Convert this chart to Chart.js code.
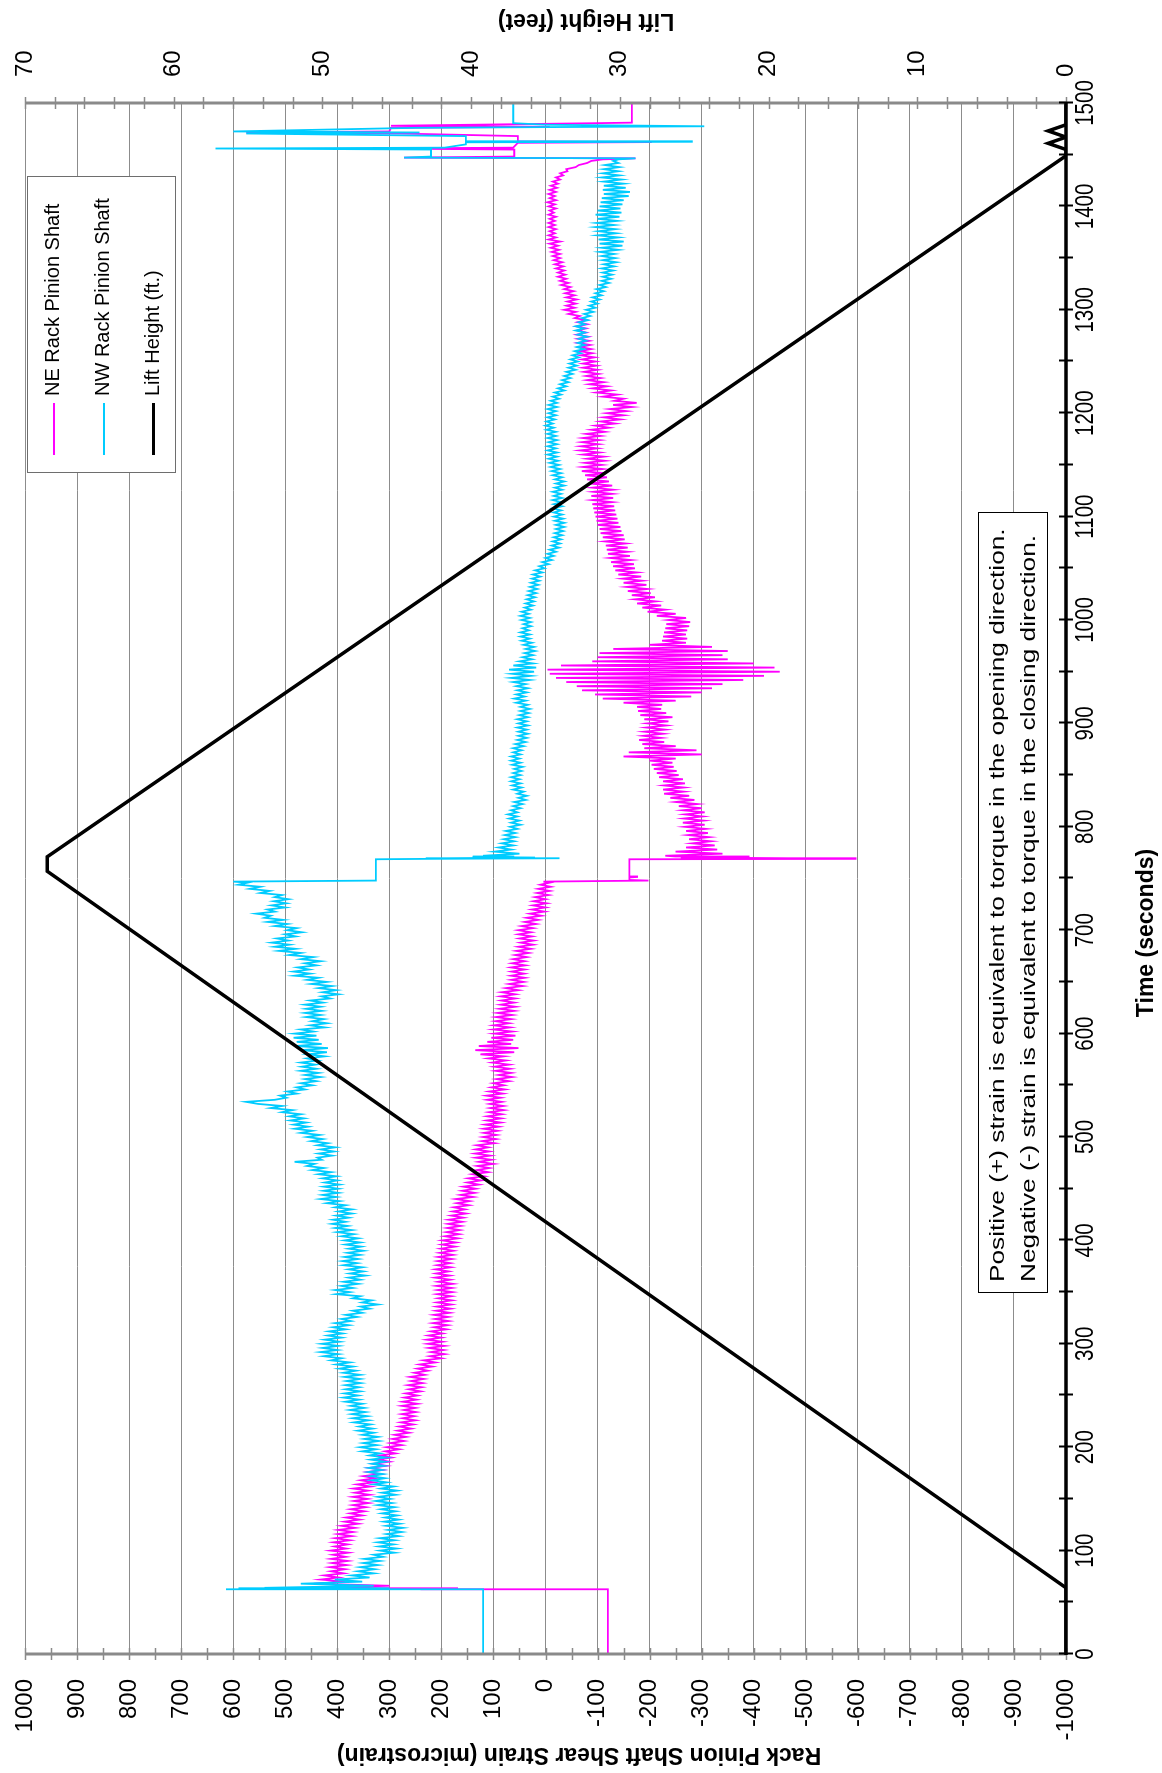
<!DOCTYPE html>
<html>
<head>
<meta charset="utf-8">
<title>Rack Pinion Shaft Shear Strain</title>
<script src="https://cdn.jsdelivr.net/npm/chart.js@4.4.1/dist/chart.umd.min.js"></script>
<style>
  html, body { margin: 0; padding: 0; background: #fff; }
  body { width: 1162px; height: 1773px; overflow: hidden; position: relative; }
  /* the chart is laid out landscape and turned a quarter turn onto the portrait page */
  #stage { position: absolute; left: 0; top: 1773px; width: 1773px; height: 1162px;
           transform-origin: 0 0; transform: rotate(-90deg); background: #fff; }
  #chart { position: absolute; left: 0; top: 0; }
  #legend { position: absolute; left: 1300px; top: 27px; width: 295px; height: 147px;
            border: 1.5px solid #6e6e6e; background: #fff;
            font: 20px "Liberation Sans", Arial, sans-serif; color: #000; }
  .item { position: absolute; left: 17px; height: 24px; line-height: 24px; white-space: nowrap; }
  .swatch { display: inline-block; width: 52px; vertical-align: middle; margin-right: 7px; }
  #note { position: absolute; left: 480px; top: 978px; width: 779px; height: 68px;
          border: 1.5px solid #000; background: #fff; overflow: hidden; }
  #note div { transform-origin: 0 0; transform: scaleX(1.25);
              font: 21px "Liberation Sans", Arial, sans-serif; line-height: 31px;
              padding: 2px 0 0 8px; white-space: nowrap; color: #000; }
</style>
</head>
<body>
<div id="stage">
  <canvas id="chart" width="1773" height="1162"></canvas>
  <div id="legend"></div>
  <div id="note"><div>Positive (+) strain is equivalent to torque in the opening direction.<br>Negative (-) strain is equivalent to torque in the closing direction.</div></div>
</div>
<script>
// ---- logged data -------------------------------------------------------
const SERIES_NAMES = ['NE Rack Pinion Shaft', 'NW Rack Pinion Shaft', 'Lift Height (ft.)'];
const SERIES_COLORS = ['#FF00FF', '#00CCFF', '#000000'];

const STEP = 2;            // logger interval during the two continuous runs (s)
const RUN1_START = 64;     // opening run: first sample time (s)
const RUN2_START = 772;    // closing run: first sample time (s)

// NE shaft, opening run (microstrain)
const neRun1 = [
 430,300,445,385,432,398,425,388,412,385,
 414,382,410,380,412,384,408,379,413,383,
 405,380,407,376,404,372,399,370,398,366,
 392,360,386,357,383,352,375,348,374,345,
 370,340,368,342,370,338,366,341,369,336,
 362,330,355,327,350,318,342,313,338,306,
 330,300,322,296,318,288,308,281,305,276,
 298,272,294,268,290,262,284,258,281,254,
 278,250,274,252,276,249,272,250,276,246,
 274,248,271,246,268,240,262,238,264,236,
 258,234,260,232,252,226,246,218,242,212,
 234,200,222,194,220,196,224,194,226,198,
 228,200,225,198,220,190,214,188,216,186,
 212,187,214,184,210,182,209,181,208,180,
 206,181,208,179,207,180,209,178,206,183,
 212,184,210,186,211,182,208,183,207,180,
 206,178,203,177,201,174,199,172,198,168,
 193,166,190,165,189,163,187,160,186,158,
 181,153,178,155,176,147,170,146,172,139,
 163,136,160,134,158,128,150,124,148,118,
 140,110,132,108,131,100,128,104,134,106,
 135,108,134,110,132,98,122,95,120,94,
 118,92,119,90,116,86,113,85,112,84,
 108,80,106,81,107,84,112,86,113,82,
 108,78,104,80,100,70,94,64,90,66,
 96,68,98,70,102,76,110,80,125,60,
 135,52,128,66,112,62,104,58,98,64,
 100,68,99,70,96,66,95,64,92,60,
 88,58,86,60,85,58,86,58,84,52,
 76,44,70,42,66,40,66,41,65,40,
 66,39,64,40,62,36,58,32,56,28,
 52,24,48,23,50,26,52,28,52,24,
 46,18,40,14,36,8,30,2,26,0,
 24,-2,23,0,20,-6,16,-8,14,-10,
 10,-8
];

// NW shaft, opening run (microstrain)
const nwRun1 = [
 540,330,470,352,405,338,372,330,360,328,
 356,322,350,318,348,312,330,290,318,286,
 320,292,322,290,318,282,305,276,302,274,
 306,280,310,282,308,285,314,288,316,290,
 322,295,326,298,322,288,314,285,316,292,
 330,305,334,308,336,312,340,314,340,310,
 334,308,336,306,338,318,352,326,356,324,
 350,320,348,322,352,330,360,332,358,336,
 368,340,370,342,372,346,376,348,374,352,
 384,358,388,360,386,356,384,358,384,355,
 382,356,386,356,388,364,396,370,402,376,
 412,392,426,398,432,400,428,398,430,396,
 424,392,418,390,416,384,408,378,404,374,
 392,362,384,352,370,338,355,322,352,334,
 370,356,402,376,404,370,392,360,388,356,
 378,346,376,350,378,352,388,362,390,360,
 386,356,380,350,378,354,384,356,386,360,
 392,368,400,372,404,380,410,384,408,378,
 402,372,398,372,404,384,420,396,432,402,
 428,398,426,398,426,396,424,400,428,402,
 436,412,448,426,458,444,482,430,438,410,
 436,406,432,404,438,418,450,428,458,434,
 470,448,482,456,484,460,490,464,492,470,
 506,486,528,506,552,575,520,498,510,478,
 496,462,478,448,470,440,462,432,462,436,
 470,440,468,442,470,438,458,424,456,420,
 470,418,480,430,478,436,484,440,482,446,
 470,424,452,420,448,426,460,432,462,430,
 460,432,462,428,452,414,430,398,428,402,
 436,410,450,420,458,436,482,452,484,454,
 476,440,462,432,470,446,492,470,512,480,
 520,492,526,494,516,480,500,468,496,478,
 520,496,534,504,540,528,556,520,534,500,
 526,498,522,494,520,506,548,530,568,548,
 590,572
];

// NE shaft, closing run (microstrain)
const neRun2 = [
 -230,-340,-250,-330,-270,-325,-282,-318,-276,-314,
 -274,-312,-270,-308,-268,-306,-264,-304,-266,-302,
 -268,-306,-264,-300,-256,-292,-250,-286,-240,-276,
 -228,-266,-226,-266,-228,-268,-226,-264,-218,-256,
 -214,-252,-208,-246,-204,-244,-200,-250,-150,-300,
 -160,-290,-190,-250,-186,-228,-180,-222,-188,-226,
 -190,-230,-194,-232,-196,-236,-190,-244,-182,-232,
 -178,-222,-176,-224,-150,-250,-110,-280,-95,-300,
 -70,-320,-60,-340,-40,-380,-20,-420,-8,-450,
 -4,-440,-30,-400,-90,-350,-100,-340,-104,-350,
 -130,-320,-200,-270,-224,-272,-226,-270,-228,-272,
 -230,-276,-232,-278,-236,-270,-214,-250,-196,-230,
 -186,-222,-176,-212,-172,-210,-166,-202,-158,-196,
 -156,-194,-150,-186,-148,-184,-140,-176,-134,-172,
 -130,-170,-126,-164,-124,-162,-120,-158,-118,-158,
 -116,-154,-114,-152,-110,-150,-106,-146,-104,-144,
 -100,-140,-98,-138,-96,-136,-94,-134,-92,-132,
 -90,-128,-90,-130,-88,-128,-92,-130,-90,-128,
 -84,-122,-80,-118,-76,-114,-70,-110,-72,-108,
 -76,-114,-80,-112,-72,-104,-66,-100,-68,-102,
 -70,-104,-72,-106,-78,-114,-88,-122,-96,-134,
 -106,-144,-112,-150,-118,-156,-124,-166,-130,-175,
 -132,-150,-110,-138,-98,-126,-90,-118,-84,-112,
 -80,-106,-78,-102,-74,-100,-72,-98,-72,-96,
 -70,-94,-68,-90,-66,-88,-66,-86,-62,-84,
 -62,-82,-60,-78,-62,-78,-60,-80,-62,-78,
 -56,-66,-44,-58,-36,-56,-40,-58,-42,-60,
 -40,-56,-38,-54,-36,-48,-30,-44,-28,-40,
 -24,-38,-24,-36,-20,-34,-18,-32,-16,-28,
 -14,-28,-12,-26,-10,-24,-8,-28,-6,-20,
 -6,-18,-8,-20,-6,-18,-6,-18,-8,-20,
 -6,-16,-8,-20,-6,-18,-4,-20,-8,-18,
 -6,-20,-8,-22,-10,-24,-14,-28,-20,-34,
 -28,-42,-40,-58,-64,-80,-88
];

// NW shaft, closing run (microstrain)
const nwRun2 = [
 120,50,98,66,90,62,84,60,80,58,
 78,58,76,54,68,48,66,50,70,54,
 72,54,66,48,62,44,60,38,52,36,
 54,42,62,46,64,48,66,50,66,48,
 62,46,60,44,64,48,66,50,66,48,
 62,46,62,42,58,38,54,36,52,34,
 52,36,54,34,52,36,54,34,50,32,
 48,30,48,34,56,38,60,40,56,36,
 54,34,56,38,62,30,66,28,64,22,
 70,18,62,24,50,26,44,24,40,20,
 38,22,42,26,46,30,48,30,48,32,
 44,28,42,28,46,30,48,32,46,28,
 40,24,38,22,36,20,34,18,32,16,
 30,14,28,12,26,10,24,6,20,2,
 12,-6,6,-12,0,-16,-4,-20,-8,-26,
 -12,-28,-14,-30,-16,-32,-18,-34,-20,-36,
 -20,-36,-18,-34,-16,-32,-16,-30,-14,-32,
 -16,-30,-14,-32,-16,-30,-14,-32,-18,-36,
 -20,-36,-18,-32,-14,-30,-12,-28,-10,-26,
 -8,-24,-6,-22,-4,-22,-4,-20,-4,-22,
 -6,-22,-4,-20,-4,-20,-2,-16,0,-14,
 -2,-18,-4,-20,-6,-20,-4,-22,-6,-22,
 -10,-26,-14,-30,-18,-36,-24,-40,-28,-44,
 -32,-48,-36,-52,-40,-58,-44,-60,-46,-62,
 -48,-64,-52,-68,-56,-74,-60,-76,-62,-78,
 -64,-80,-62,-76,-58,-74,-58,-76,-64,-82,
 -70,-86,-74,-92,-78,-96,-84,-100,-88,-104,
 -90,-108,-96,-112,-98,-116,-104,-122,-108,-126,
 -110,-128,-110,-130,-108,-132,-112,-136,-110,-134,
 -108,-132,-104,-140,-108,-148,-104,-150,-102,-140,
 -100,-136,-102,-134,-96,-132,-98,-138,-100,-142,
 -96,-146,-100,-144,-104,-148,-106,-150,-108,-160,
 -112,-162,-110,-154,-112,-150,-112,-146,-108,-142,
 -110,-140,-112,-142,-114,-140,-130
];

// sparse samples outside the continuous runs: [time (s), microstrain]
const neEvents = [
 [0,-120],[62,-120],[62.4,110],[62.8,240],[63.2,170],[63.6,330],
 [747,4],[748,-198],[748.6,-161],[751,-161],[751.5,-176],[752,-161],[768.6,-161],
 [769,-596],[769.4,-260],[769.8,-470],[770.3,-270],[770.8,-390],[771.3,-250],
 [1445.5,-110],[1446.5,-173],[1447.2,272],[1448.2,60],[1455,60],[1456,326],[1456.8,62],
 [1461.5,53],[1462.2,-204],[1462.8,53],[1468,53],[1470.5,279],[1471.5,575],[1472.5,300],
 [1476,297],[1477,-8],[1478,297],[1480.5,-98],[1481,-166],[1500,-166]
];
const nwEvents = [
 [0,120],[62,120],[62.4,614],[62.8,250],[63.2,590],[63.6,300],
 [747,600],[748,326],[768.6,326],
 [769,230],[769.4,-27],[769.8,190],[770.3,20],[770.8,140],[771.3,60],
 [1445.5,-140],[1446.5,-173],[1447.2,272],[1448.2,220],[1455,220],[1456,634],[1456.8,194],
 [1460,153],[1462,153],[1462.5,-281],[1463,153],[1468,153],[1470.5,575],[1471.5,242],
 [1472.5,600],[1476,250],[1477.5,-305],[1479,0],[1480.5,62],[1500,62]
];

// lift height of the span (ft)
const liftTimes  = [0, 64, 757, 771, 1449, 1455, 1461, 1467, 1473, 1479, 1500];
const liftHeight = [0, 0, 68.5, 68.5, 0, 0, 1.2, 0, 1.2, 0, 0];

// axis ranges and tick steps
const TIME_MAX = 1500, TIME_STEP = 100, TIME_MINOR = 50;
const STRAIN_MIN = -1000, STRAIN_MAX = 1000, STRAIN_STEP = 100, STRAIN_MINOR = 50;
const LIFT_MAX = 70, LIFT_STEP = 10, LIFT_MINOR = 2;

// ---- assemble point lists ----------------------------------------------
function buildSeries(events, runs) {
  const pts = events.map(([t, v]) => ({ x: t, y: v }));
  runs.forEach(({ start, values }) => {
    values.forEach((v, i) => pts.push({ x: start + i * STEP, y: v }));
  });
  return pts.sort((a, b) => a.x - b.x);
}
const nePoints = buildSeries(neEvents, [{ start: RUN1_START, values: neRun1 }, { start: RUN2_START, values: neRun2 }]);
const nwPoints = buildSeries(nwEvents, [{ start: RUN1_START, values: nwRun1 }, { start: RUN2_START, values: nwRun2 }]);
const liftPoints = liftTimes.map((t, i) => ({ x: t, y: liftHeight[i] }));

// ---- axis lines with crossing tick marks, time labels and axis titles ---
const FONT = '"Liberation Sans", Arial, Helvetica, sans-serif';
const axisFrame = {
  id: 'axisFrame',
  afterDatasetsDraw(chart) {
    const { ctx, chartArea: a, scales } = chart;
    const seg = (x1, y1, x2, y2) => { ctx.beginPath(); ctx.moveTo(x1, y1); ctx.lineTo(x2, y2); ctx.stroke(); };
    ctx.save();
    ctx.lineCap = 'butt';
    // strain axis (left)
    ctx.strokeStyle = '#8a8a8a';
    ctx.lineWidth = 1.5;
    for (let s = STRAIN_MIN; s <= STRAIN_MAX; s += STRAIN_MINOR) {
      const p = Math.round(scales.y.getPixelForValue(s)) + 0.5;
      seg(a.left - 6, p, a.left + 6, p);
    }
    ctx.lineWidth = 3;
    seg(a.left, a.top, a.left, a.bottom);
    // lift axis (right)
    ctx.lineWidth = 1.5;
    for (let h = 0; h <= LIFT_MAX; h += LIFT_MINOR) {
      const p = Math.round(scales.y1.getPixelForValue(h)) + 0.5;
      seg(a.right - 6, p, a.right + 6, p);
    }
    ctx.lineWidth = 3;
    seg(a.right, a.top, a.right, a.bottom);
    // time axis (bottom)
    ctx.strokeStyle = '#000';
    ctx.lineWidth = 2;
    for (let t = 0; t <= TIME_MAX; t += TIME_MINOR) {
      const p = Math.round(scales.x.getPixelForValue(t)) + 0.5;
      seg(p, a.bottom - 7, p, a.bottom + 7);
    }
    ctx.lineWidth = 3.5;
    seg(a.left - 1, a.bottom, a.right + 1, a.bottom);
    ctx.restore();
  },
  afterDraw(chart) {
    const { ctx, chartArea: a, scales } = chart;
    ctx.save();
    ctx.fillStyle = '#000';
    // time tick labels in a condensed face
    ctx.font = '25px ' + FONT;
    ctx.textAlign = 'center';
    ctx.textBaseline = 'middle';
    scales.x.ticks.forEach(tk => {
      const p = scales.x.getPixelForValue(tk.value);
      ctx.save(); ctx.translate(p, a.bottom + 20); ctx.scale(0.82, 1);
      ctx.fillText(String(tk.value), 0, 0); ctx.restore();
    });
    // axis titles
    ctx.font = 'bold 23px ' + FONT;
    ctx.fillText('Time (seconds)', 840, 1147);
    const vertical = (text, x, y) => {
      ctx.save(); ctx.translate(x, y); ctx.rotate(-Math.PI / 2); ctx.fillText(text, 0, 0); ctx.restore();
    };
    vertical('Rack Pinion Shaft Shear Strain (microstrain)', 19, 579);
    vertical('Lift Height (feet)', 1753, 586);
    ctx.restore();
  }
};

const noEdgePadding = scale => { scale.paddingTop = 0; scale.paddingBottom = 0; scale.paddingLeft = 0; scale.paddingRight = 0; };

const chart = new Chart(document.getElementById('chart'), {
  type: 'line',
  data: {
    datasets: [
      { label: SERIES_NAMES[0], data: nePoints, borderColor: SERIES_COLORS[0], borderWidth: 1.8,
        pointRadius: 0, tension: 0, yAxisID: 'y', order: 3 },
      { label: SERIES_NAMES[1], data: nwPoints, borderColor: SERIES_COLORS[1], borderWidth: 1.8,
        pointRadius: 0, tension: 0, yAxisID: 'y', order: 2 },
      { label: SERIES_NAMES[2], data: liftPoints, borderColor: SERIES_COLORS[2], borderWidth: 3.5,
        pointRadius: 0, tension: 0, yAxisID: 'y1', order: 1 }
    ]
  },
  options: {
    responsive: false,
    animation: false,
    devicePixelRatio: 1,
    layout: { padding: { top: 25, left: 0, right: 0, bottom: 0 } },
    plugins: { legend: { display: false }, tooltip: { enabled: false } },
    scales: {
      x: {
        type: 'linear', min: 0, max: TIME_MAX,
        grid: { display: false, drawTicks: false },
        border: { display: false },
        ticks: { stepSize: TIME_STEP, display: false },
        afterFit(scale) { scale.height = 96; noEdgePadding(scale); }
      },
      y: {
        position: 'left', min: STRAIN_MIN, max: STRAIN_MAX,
        grid: { color: '#8c8c8c', lineWidth: 1, drawTicks: false },
        border: { display: false },
        ticks: { stepSize: STRAIN_STEP, padding: 25, color: '#000', font: { family: FONT, size: 24 },
                 callback: v => String(v) },
        afterFit(scale) { scale.width = 119; noEdgePadding(scale); }
      },
      y1: {
        position: 'right', min: 0, max: LIFT_MAX,
        grid: { drawOnChartArea: false, drawTicks: false },
        border: { display: false },
        ticks: { stepSize: LIFT_STEP, padding: 26, color: '#000', font: { family: FONT, size: 24 },
                 callback: v => String(v) },
        afterFit(scale) { scale.width = 103; noEdgePadding(scale); }
      }
    }
  },
  plugins: [axisFrame]
});

// legend built from the datasets
const legend = document.getElementById('legend');
chart.data.datasets.forEach((ds, i) => {
  const item = document.createElement('div');
  item.className = 'item';
  item.style.top = (12 + i * 50) + 'px';
  const sw = document.createElement('span');
  sw.className = 'swatch';
  sw.style.height = (i === 2 ? 3 : 2) + 'px';
  sw.style.background = ds.borderColor;
  item.appendChild(sw);
  item.appendChild(document.createTextNode(ds.label));
  legend.appendChild(item);
});
</script>
</body>
</html>
